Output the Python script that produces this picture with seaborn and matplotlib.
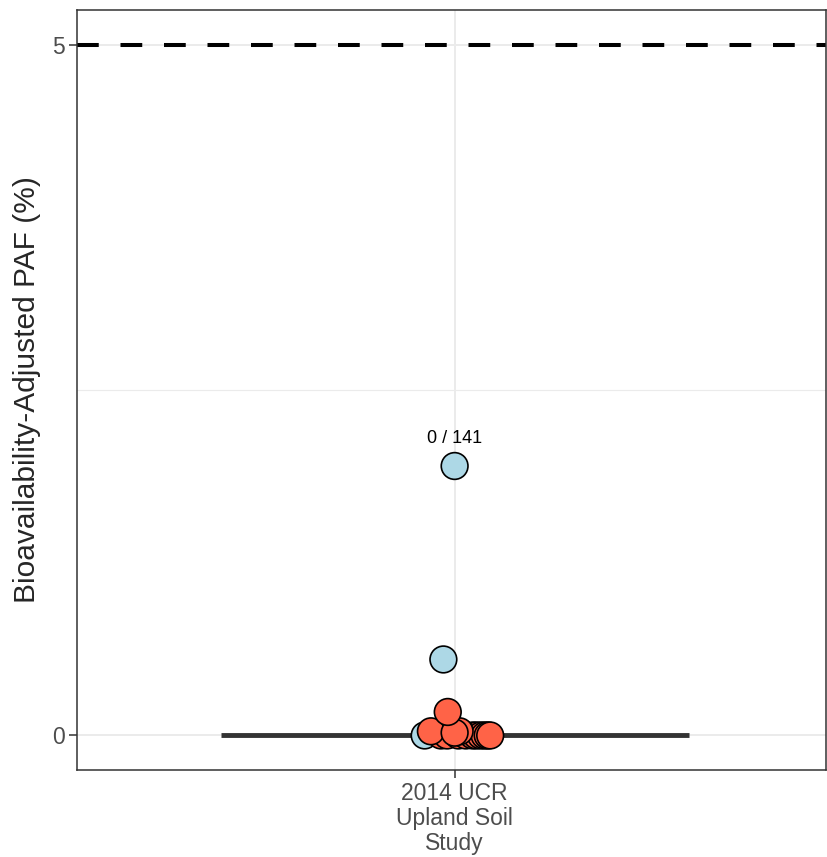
import numpy as np
import pandas as pd
import matplotlib.pyplot as plt
import seaborn as sns

# data
study = "2014 UCR\nUpland Soil\nStudy"
threshold = 5
count_label = "0 / 141"

# orange = measured, blue = reference (points per category)
blue_y = [0.0, 0.55, 1.95]
blue_jit = [-0.048, -0.018, 0.0]
orange_y = [0.0, 0.0, 0.0, 0.0, 0.0, 0.0, 0.0, 0.0, 0.0, 0.0, 0.03, 0.03, 0.02, 0.17]
orange_jit = [-0.022, -0.012, 0.006, 0.018, 0.029, 0.035, 0.042, 0.048, 0.053, 0.057, -0.038, 0.008, 0.0, -0.011]

df = pd.DataFrame({
    'x': blue_jit + orange_jit,
    'y': blue_y + orange_y,
    'grp': ['ref'] * len(blue_y) + ['obs'] * len(orange_y),
})

sns.set_style('white')
plt.rcParams['font.family'] = ['Liberation Sans', 'DejaVu Sans']

fig = plt.figure(figsize=(8.27, 8.57), dpi=100)
ax = fig.add_axes([77 / 827, 1 - 770 / 857, 749 / 827, 760 / 857])

# grid
for gy in [0, 2.5, 5]:
    ax.axhline(gy, color='#EBEBEB', lw=1.4 if gy != 2.5 else 0.8, zorder=0)
ax.axvline(0, color='#EBEBEB', lw=1.4, zorder=0)

# crossbar at median
ax.plot([-0.375, 0.375], [0, 0], color='#333333', lw=3.5, solid_capstyle='butt', zorder=1)

ax.axhline(threshold, color='black', lw=2.9, ls=(0, (5.4, 5.4)), zorder=1)

sns.scatterplot(data=df, x='x', y='y', hue='grp', hue_order=['ref', 'obs'],
                palette={'ref': '#ADD8E6', 'obs': '#FF6347'}, s=370,
                edgecolor='black', linewidth=1.2, legend=False, zorder=3, ax=ax)

ax.text(0, max(blue_y) + 0.14, count_label, ha='center', va='bottom', fontsize=13, color='black')

ax.set_xlim(-0.605, 0.595)
ax.set_ylim(-0.25, 5.25)
ax.set_xticks([0])
ax.set_xticklabels([study], fontsize=16.5, color='#4D4D4D', linespacing=1.1)
ax.set_yticks([0, 5])
ax.set_yticklabels(['0', '5'], fontsize=16.5, color='#4D4D4D')
ax.tick_params(axis='both', length=6, width=1.1, color='#333333', direction='out', left=True, bottom=True, pad=3)
ax.set_xlabel('')
ax.set_ylabel('Bioavailability-Adjusted PAF (%)', fontsize=21.5, labelpad=8)
for sp in ax.spines.values():
    sp.set_color('#333333')
    sp.set_linewidth(1.1)

fig.savefig('out.png', dpi=100)
